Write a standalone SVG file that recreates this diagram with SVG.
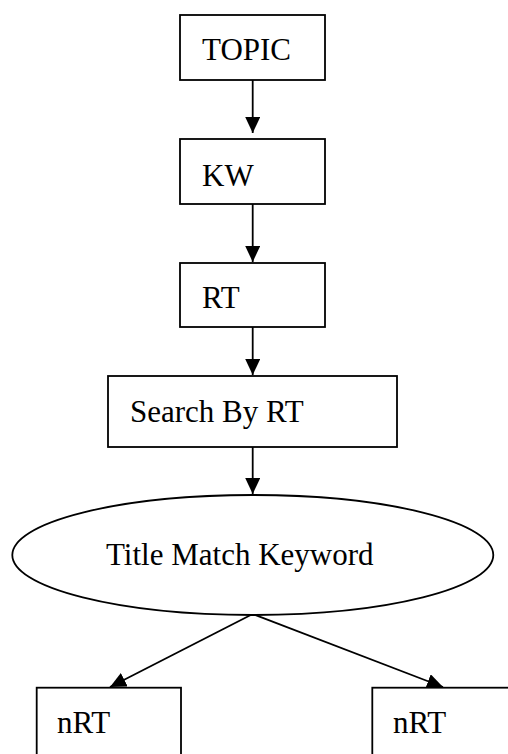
<svg xmlns="http://www.w3.org/2000/svg" width="508" height="754" viewBox="0 0 508 754">
  <style>
    .box { fill: #ffffff; stroke: #000000; stroke-width: 1.8; }
    .link { fill: none; stroke: #000000; stroke-width: 1.8; }
    .label { font-family: "Liberation Serif", "Times New Roman", serif; font-size: 31px; fill: #000000; }
  </style>
  <defs>
    <marker id="arrow" markerUnits="userSpaceOnUse" markerWidth="16" markerHeight="15" refX="16" refY="7.5" orient="auto">
      <path d="M0,0 L16,7.5 L0,15 Z" fill="#000000"/>
    </marker>
  </defs>

  <rect width="508" height="754" fill="#ffffff"/>

  <!-- connectors -->
  <g id="connectors">
    <line class="link" x1="252.7" y1="80" x2="252.7" y2="133" marker-end="url(#arrow)"/>
    <line class="link" x1="252.7" y1="204" x2="252.7" y2="262" marker-end="url(#arrow)"/>
    <line class="link" x1="252.7" y1="327" x2="252.7" y2="375" marker-end="url(#arrow)"/>
    <line class="link" x1="252.7" y1="447" x2="252.7" y2="494" marker-end="url(#arrow)"/>
    <line class="link" x1="252.7" y1="614" x2="110" y2="687" marker-end="url(#arrow)"/>
    <line class="link" x1="252.7" y1="614" x2="443" y2="687" marker-end="url(#arrow)"/>
  </g>

  <g id="topic">
    <rect class="box" x="180" y="15" width="145" height="65"/>
    <text class="label" x="202" y="60">TOPIC</text>
  </g>

  <g id="kw">
    <rect class="box" x="180" y="139" width="145" height="65"/>
    <text class="label" x="202" y="186">KW</text>
  </g>

  <g id="rt">
    <rect class="box" x="180" y="263" width="145" height="64"/>
    <text class="label" x="202" y="308">RT</text>
  </g>

  <g id="search-by-rt">
    <rect class="box" x="108" y="376" width="289" height="71"/>
    <text class="label" x="130" y="422">Search By RT</text>
  </g>

  <g id="title-match">
    <ellipse class="box" cx="252.8" cy="555" rx="240.5" ry="60"/>
    <text class="label" x="106" y="565">Title Match Keyword</text>
  </g>

  <g id="nrt-left">
    <rect class="box" x="36.7" y="687.7" width="144.3" height="90"/>
    <text class="label" x="57" y="733">nRT</text>
  </g>

  <g id="nrt-right">
    <rect class="box" x="372.3" y="687.7" width="160" height="90"/>
    <text class="label" x="393" y="733">nRT</text>
  </g>
</svg>
